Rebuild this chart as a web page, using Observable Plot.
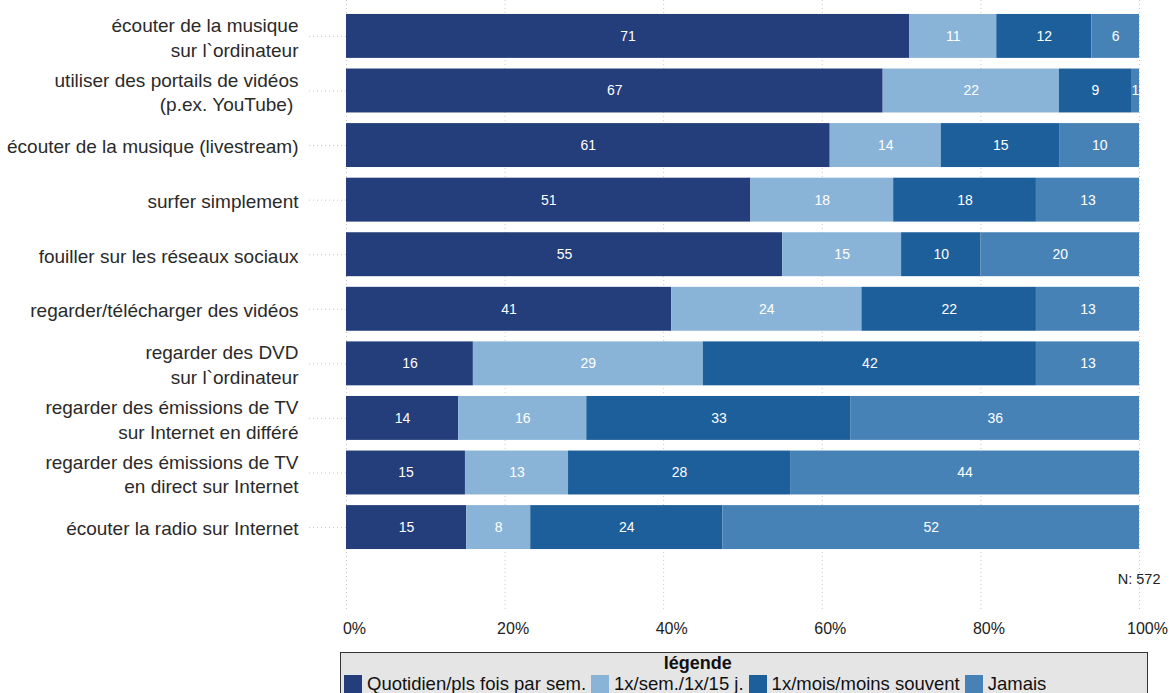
<!DOCTYPE html>
<html><head><meta charset="utf-8">
<script src="https://cdn.jsdelivr.net/npm/d3@7"></script>
<script src="https://cdn.jsdelivr.net/npm/@observablehq/plot@0.6"></script>
<style>
body{margin:0;background:#fff;font-family:"Liberation Sans",Arial,Helvetica,sans-serif;}
#chart svg{display:block;}
#legend{margin-left:340px;margin-top:4px;width:806px;height:60px;border:1px solid #333;background:#e5e5e5;box-sizing:content-box;}
#legend .inner{display:inline-block;padding-left:3px;}
#legend .title{font-weight:bold;font-size:18px;text-align:center;line-height:21px;color:#111;}
#legend .row{display:flex;align-items:center;font-size:18.5px;line-height:20px;color:#111;}
#legend .sw{width:18px;height:19px;margin-right:5px;}
#legend .lab{margin-right:5px;}
</style></head><body>
<div id="chart"></div>
<div id="legend"></div>
<script>
const items = [
  "écouter de la musique\nsur l`ordinateur",
  "utiliser des portails de vidéos\n(p.ex. YouTube) ",
  "écouter de la musique (livestream)",
  "surfer simplement",
  "fouiller sur les réseaux sociaux",
  "regarder/télécharger des vidéos",
  "regarder des DVD\nsur l`ordinateur",
  "regarder des émissions de TV\nsur Internet en différé",
  "regarder des émissions de TV\nen direct sur Internet",
  "écouter la radio sur Internet"
];
const categories = ["Quotidien/pls fois par sem.", "1x/sem./1x/15 j.", "1x/mois/moins souvent", "Jamais"];
const quotidien = [71, 67, 61, 51, 55, 41, 16, 14, 15, 15];
const hebdo     = [11, 22, 14, 18, 15, 24, 29, 16, 13, 8];
const mensuel   = [12, 9, 15, 18, 10, 22, 42, 33, 28, 24];
const jamais    = [6, 1, 10, 13, 20, 13, 13, 36, 44, 52];
const colors = ["#243d7b", "#8ab4d7", "#1d5f9b", "#4682b6"];
const xTicks = [0, 0.2, 0.4, 0.6, 0.8, 1];
const sampleNote = "N: 572";

const series = [quotidien, hebdo, mensuel, jamais];
const data = [];
items.forEach((item, i) => {
  categories.forEach((cat, j) => {
    data.push({item, cat, value: series[j][i]});
  });
});

const stackOpts = {x: "value", y: "item", z: "cat", offset: "normalize", order: categories};

const chart = Plot.plot({
  width: 1174,
  height: 648,
  marginLeft: 346,
  marginRight: 35,
  marginTop: 0,
  marginBottom: 36,
  style: {fontFamily: "'Liberation Sans', Arial, Helvetica, sans-serif", background: "#fff"},
  x: {domain: [0, 1]},
  y: {domain: items, range: [8.5, 554.5], paddingInner: 0.195, paddingOuter: 0.1, round: false},
  color: {domain: categories, range: colors},
  marks: [
    Plot.gridX({ticks: xTicks, stroke: "#c8c8c8", strokeOpacity: 1, strokeDasharray: "1,3"}),
    Plot.barX(data, Plot.stackX({...stackOpts, fill: "cat"})),
    Plot.textX(data, Plot.stackX({...stackOpts, text: d => String(d.value), fill: "white", fontSize: 14})),
    Plot.axisY({tickSize: 40, tickPadding: 8, fontSize: 19, lineHeight: 1.3, stroke: "#c8c8c8", strokeDasharray: "1,3", fill: "#2a2a2a", label: null}),
    Plot.axisX({ticks: xTicks, tickFormat: d => `${Math.round(d * 100)}%`, tickSize: 0, tickPadding: 10, fontSize: 16, dx: 8, fill: "#222", label: null}),
    Plot.text([sampleNote], {frameAnchor: "bottom-right", dx: 21, dy: -29, fontSize: 14.5, fill: "#222", textAnchor: "end"})
  ]
});
document.getElementById("chart").appendChild(chart);

const legend = document.getElementById("legend");
const inner = document.createElement("div");
inner.className = "inner";
const title = document.createElement("div");
title.className = "title";
title.textContent = "légende";
inner.appendChild(title);
const row = document.createElement("div");
row.className = "row";
categories.forEach((cat, j) => {
  const sw = document.createElement("span");
  sw.className = "sw";
  sw.style.background = colors[j];
  const lab = document.createElement("span");
  lab.className = "lab";
  lab.textContent = cat;
  row.appendChild(sw);
  row.appendChild(lab);
});
inner.appendChild(row);
legend.appendChild(inner);
</script>
</body></html>
